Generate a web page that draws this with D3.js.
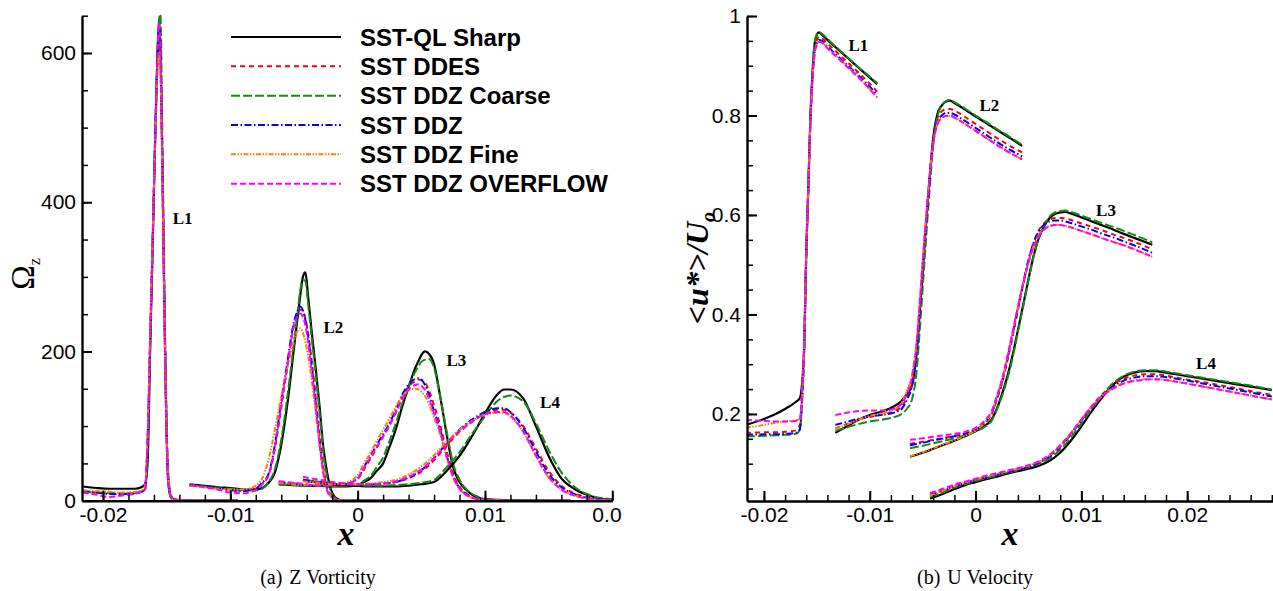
<!DOCTYPE html>
<html><head><meta charset="utf-8">
<script src="https://cdn.jsdelivr.net/npm/d3@7"></script>
<style>
html,body{margin:0;padding:0;background:#fff;}
svg{display:block;}
</style></head><body>
<svg id="chart" width="1273" height="591"></svg>
<script>
// ---------------- DATA ----------------
const seriesNames = ["SST-QL Sharp","SST DDES","SST DDZ Coarse","SST DDZ","SST DDZ Fine","SST DDZ OVERFLOW"];
const lineLabels = ["L1","L2","L3","L4"];
const vortTicksX = [-0.02,-0.01,0,0.01,0.02];
const vortTicksY = [0,200,400,600];
const velTicksX = [-0.02,-0.01,0,0.01,0.02];
const velTicksY = [0.2,0.4,0.6,0.8,1];

// Z vorticity, line L1..L4 (x grid + one array per series, series order as seriesNames)
const vortL1x = [-0.0216,-0.0205,-0.0195,-0.0185,-0.0175,-0.0170,-0.0167,-0.0165,-0.0163,-0.0161,-0.0159,-0.0157,-0.0156,-0.0155,-0.0153,-0.0151,-0.0149,-0.0147,-0.0145,-0.0142,-0.0138,-0.0130,-0.0120,-0.0094];
const vortL1 = [
 [19,17,16,16,16,18,22,50,200,340,485,610,642,615,405,170,30,6,2,1,0.5,0,0,0],
 [12,11,10,10,10,12,16,80,215,350,490,600,620,600,400,178,36,8,2,1,0.5,0,0,0],
 [12,11,10,9,10,12,15,70,205,345,490,610,645,652,440,200,45,10,3,1,0.5,0,0,0],
 [13,11,9,9,10,12,16,80,215,350,490,605,635,612,402,176,35,7,2,1,0.5,0,0,0],
 [14,13,12,11,12,14,20,90,225,355,480,580,600,580,390,172,35,7,2,1,0.5,0,0,0],
 [11,8,5,7,9,12,15,80,215,350,490,608,640,612,402,178,36,8,2,1,0.5,0,0,0]
];
const vortL2x = [-0.0132,-0.012,-0.011,-0.010,-0.009,-0.008,-0.0075,-0.007,-0.0065,-0.006,-0.0055,-0.005,-0.0047,-0.0045,-0.0043,-0.0041,-0.0039,-0.0036,-0.0033,-0.003,-0.0027,-0.0024,-0.0021,-0.0018,-0.0014,-0.001,0,0.002,0.0044];
const vortL2 = [
 [22,20,18,17,15,15,17,24,38,75,132,205,248,276,300,306,275,225,178,128,72,38,15,5,1,0,0,0,0],
 [21,19,17,15,13,16,23,34,70,125,182,236,252,256,254,244,226,186,140,88,46,18,7,2,1,0,0,0,0],
 [20,19,17,16,14,14,16,25,42,82,142,212,255,283,296,294,265,217,170,120,65,32,12,4,1,0,0,0,0],
 [21,19,17,14,13,16,24,36,75,133,188,240,255,260,255,242,222,180,133,80,40,15,6,2,1,0,0,0,0],
 [20,18,16,15,15,20,30,55,95,140,180,215,228,231,225,212,195,160,120,75,38,15,6,2,1,0,0,0,0],
 [21,18,15,11,10,14,22,34,72,128,182,235,248,251,246,235,214,173,128,78,38,14,5,2,1,0,0,0,0]
];
const vortL3x = [-0.0062,-0.005,-0.004,-0.003,-0.002,-0.001,0,0.0005,0.001,0.0015,0.002,0.0025,0.003,0.0035,0.004,0.0045,0.0048,0.005,0.0053,0.0056,0.006,0.0065,0.007,0.0075,0.008,0.0085,0.009,0.0095,0.010,0.011,0.012,0.0167];
const vortL3 = [
 [22,21,20,20,19,19,21,25,30,40,50,72,96,126,152,177,188,195,200,197,183,138,88,45,25,15,8,4,2,1,0.5,0],
 [25,23,21,20,20,22,29,42,56,71,86,101,119,139,153,160,162,162,158,148,128,100,66,37,19,10,5,2,1,0.5,0,0],
 [22,21,20,20,20,20,22,27,33,45,58,80,104,130,153,172,181,186,189,190,178,138,92,50,28,16,9,5,2,1,0.5,0],
 [25,23,21,20,20,22,30,45,60,75,89,104,122,142,156,163,164,162,155,142,120,94,60,33,17,9,4,2,1,0.5,0,0],
 [24,22,21,21,21,24,34,50,64,80,95,110,126,140,148,150,149,146,140,130,112,88,57,31,16,8,4,2,1,0.5,0,0],
 [26,24,22,20,20,22,30,44,58,72,86,101,118,136,149,155,156,154,148,137,117,91,59,32,16,8,4,2,1,0.5,0,0]
];
const vortL4x = [-0.0043,-0.003,-0.002,-0.001,0,0.001,0.002,0.003,0.004,0.005,0.006,0.007,0.008,0.009,0.010,0.011,0.0115,0.012,0.013,0.014,0.015,0.016,0.017,0.018,0.019,0.020,0.022,0.025,0.028];
const vortL4 = [
 [27,24,22,21,20,19,19,19,20,22,25,40,60,87,117,143,149,149,137,100,60,30,16,8,3,1,0.5,0,0],
 [27,25,23,22,22,22,23,25,30,39,54,74,92,106,117,122,122,118,100,70,40,20,10,5,2,1,0.5,0,0],
 [28,25,23,22,21,20,20,21,22,24,28,45,65,90,113,134,139,141,133,104,68,38,19,9,4,2,0.5,0,0],
 [28,25,23,22,22,22,23,25,31,41,57,77,95,109,119,124,124,119,98,66,36,18,9,4,2,1,0.5,0,0],
 [26,24,22,22,22,23,25,28,35,46,61,79,95,107,115,118,118,113,92,60,31,15,7,3,1,0.5,0,0,0],
 [32,28,25,23,22,22,23,26,32,42,57,76,93,106,116,119,119,114,93,61,32,15,7,3,1,0.5,0,0,0]
];

// U velocity <u*>/Uo, line L1..L4
const velL1x = [-0.0217,-0.020,-0.019,-0.018,-0.017,-0.0166,-0.0164,-0.0162,-0.016,-0.0158,-0.0156,-0.0154,-0.0152,-0.0150,-0.0148,-0.0145,-0.014,-0.013,-0.012,-0.011,-0.010,-0.0093];
const velL1 = [
 [0.178,0.190,0.199,0.210,0.224,0.232,0.26,0.335,0.525,0.660,0.800,0.890,0.946,0.962,0.967,0.962,0.952,0.933,0.914,0.895,0.876,0.863],
 [0.162,0.163,0.163,0.164,0.167,0.178,0.24,0.33,0.52,0.655,0.795,0.885,0.935,0.952,0.958,0.955,0.945,0.925,0.905,0.885,0.864,0.848],
 [0.155,0.156,0.157,0.158,0.160,0.168,0.22,0.32,0.52,0.655,0.80,0.89,0.946,0.963,0.968,0.964,0.954,0.934,0.915,0.896,0.878,0.865],
 [0.158,0.159,0.159,0.160,0.162,0.170,0.23,0.33,0.52,0.655,0.795,0.88,0.93,0.945,0.952,0.950,0.939,0.919,0.899,0.879,0.858,0.842],
 [0.172,0.178,0.182,0.185,0.187,0.19,0.24,0.335,0.525,0.655,0.79,0.875,0.925,0.942,0.948,0.946,0.936,0.916,0.896,0.876,0.853,0.837],
 [0.188,0.186,0.185,0.185,0.186,0.19,0.245,0.34,0.53,0.66,0.79,0.875,0.925,0.942,0.948,0.946,0.935,0.915,0.895,0.875,0.853,0.836]
];
const velL2x = [-0.01325,-0.012,-0.011,-0.010,-0.009,-0.008,-0.007,-0.0065,-0.006,-0.0056,-0.0052,-0.0048,-0.0044,-0.004,-0.0036,-0.0032,-0.0028,-0.0024,-0.002,-0.001,0,0.001,0.002,0.003,0.0044];
const velL2 = [
 [0.162,0.177,0.189,0.198,0.204,0.212,0.226,0.240,0.258,0.315,0.425,0.545,0.660,0.755,0.803,0.820,0.828,0.830,0.825,0.812,0.798,0.785,0.771,0.758,0.739],
 [0.171,0.181,0.189,0.194,0.198,0.203,0.215,0.232,0.26,0.32,0.43,0.55,0.66,0.75,0.795,0.808,0.813,0.813,0.810,0.797,0.783,0.769,0.755,0.742,0.726],
 [0.166,0.174,0.180,0.185,0.188,0.192,0.200,0.21,0.23,0.28,0.39,0.515,0.635,0.740,0.798,0.820,0.829,0.831,0.827,0.814,0.800,0.787,0.773,0.760,0.741],
 [0.178,0.185,0.191,0.195,0.198,0.201,0.210,0.228,0.258,0.32,0.43,0.55,0.655,0.745,0.788,0.800,0.805,0.805,0.802,0.789,0.775,0.761,0.747,0.734,0.718],
 [0.170,0.180,0.189,0.196,0.201,0.207,0.222,0.245,0.28,0.34,0.45,0.565,0.665,0.745,0.783,0.795,0.799,0.799,0.796,0.783,0.769,0.755,0.741,0.728,0.712],
 [0.198,0.203,0.206,0.207,0.207,0.209,0.22,0.24,0.275,0.335,0.445,0.56,0.66,0.743,0.782,0.795,0.799,0.799,0.796,0.783,0.769,0.755,0.741,0.728,0.712]
];
const velL3x = [-0.0062,-0.005,-0.004,-0.003,-0.002,-0.001,0,0.001,0.0015,0.002,0.0025,0.003,0.0035,0.004,0.0045,0.005,0.0055,0.006,0.0065,0.007,0.0075,0.008,0.0085,0.009,0.010,0.011,0.012,0.013,0.014,0.015,0.0167];
const velL3 = [
 [0.114,0.122,0.130,0.138,0.146,0.155,0.165,0.178,0.188,0.21,0.24,0.275,0.318,0.368,0.419,0.471,0.519,0.555,0.578,0.594,0.602,0.605,0.606,0.603,0.595,0.587,0.579,0.571,0.562,0.554,0.540],
 [0.140,0.144,0.148,0.152,0.156,0.161,0.168,0.184,0.198,0.228,0.262,0.306,0.356,0.408,0.46,0.508,0.545,0.570,0.584,0.591,0.594,0.594,0.593,0.590,0.583,0.576,0.569,0.561,0.554,0.546,0.531],
 [0.131,0.136,0.141,0.146,0.151,0.157,0.165,0.176,0.186,0.208,0.236,0.27,0.313,0.364,0.416,0.469,0.518,0.556,0.58,0.597,0.605,0.608,0.609,0.606,0.599,0.591,0.583,0.576,0.568,0.560,0.545],
 [0.137,0.142,0.147,0.151,0.155,0.160,0.168,0.185,0.20,0.23,0.265,0.31,0.36,0.412,0.463,0.51,0.545,0.568,0.581,0.587,0.589,0.589,0.587,0.584,0.577,0.570,0.562,0.555,0.547,0.539,0.524],
 [0.115,0.123,0.131,0.139,0.147,0.156,0.167,0.186,0.202,0.233,0.268,0.313,0.363,0.414,0.463,0.505,0.538,0.560,0.572,0.578,0.580,0.580,0.578,0.575,0.568,0.561,0.553,0.546,0.539,0.531,0.516],
 [0.148,0.151,0.154,0.157,0.160,0.164,0.172,0.19,0.205,0.235,0.27,0.315,0.365,0.415,0.462,0.504,0.537,0.559,0.571,0.577,0.580,0.580,0.578,0.575,0.568,0.561,0.553,0.546,0.539,0.531,0.516]
];
const velL4x = [-0.0043,-0.003,-0.002,-0.001,0,0.001,0.002,0.003,0.004,0.005,0.006,0.007,0.008,0.009,0.010,0.011,0.012,0.013,0.014,0.015,0.016,0.017,0.018,0.020,0.022,0.024,0.026,0.028];
const velL4 = [
 [0.030,0.040,0.049,0.057,0.063,0.069,0.074,0.080,0.085,0.090,0.096,0.106,0.122,0.146,0.175,0.206,0.234,0.259,0.275,0.283,0.286,0.286,0.283,0.276,0.269,0.262,0.255,0.248],
 [0.038,0.047,0.055,0.062,0.068,0.074,0.079,0.084,0.089,0.095,0.103,0.116,0.135,0.160,0.188,0.216,0.240,0.259,0.271,0.277,0.280,0.280,0.277,0.269,0.262,0.254,0.246,0.238],
 [0.033,0.043,0.052,0.059,0.065,0.071,0.076,0.082,0.087,0.093,0.100,0.111,0.128,0.152,0.181,0.211,0.238,0.262,0.277,0.285,0.288,0.288,0.285,0.278,0.271,0.264,0.257,0.249],
 [0.037,0.046,0.054,0.061,0.067,0.073,0.078,0.083,0.088,0.094,0.102,0.115,0.134,0.159,0.187,0.214,0.237,0.255,0.267,0.273,0.276,0.276,0.274,0.267,0.259,0.251,0.243,0.235],
 [0.036,0.046,0.055,0.062,0.068,0.074,0.079,0.085,0.090,0.096,0.104,0.117,0.136,0.161,0.189,0.216,0.237,0.252,0.262,0.267,0.270,0.270,0.268,0.261,0.253,0.245,0.237,0.229],
 [0.041,0.050,0.058,0.064,0.070,0.076,0.081,0.086,0.091,0.097,0.105,0.118,0.137,0.161,0.189,0.215,0.236,0.251,0.261,0.266,0.269,0.270,0.268,0.261,0.253,0.245,0.237,0.229]
];
// label anchor points (data units)
const vortLabelX = [-0.01375,-0.0019,0.00776,0.01511];
const vortLabelY = [379,233,189,132];
const velLabelX = [-0.01108,0.0013,0.01233,0.02178];
const velLabelY = [0.942,0.821,0.610,0.302];

// ---------------- STYLE ----------------
const SANS = "'Liberation Sans', Arial, Helvetica, sans-serif";
const SERIF = "'Liberation Serif', 'Times New Roman', Times, serif";
const styles = [
  {color:"#000000", dash:null, width:2.2},
  {color:"#ff0000", dash:"5,4", width:2},
  {color:"#138a13", dash:"9,3", width:2},
  {color:"#0000ff", dash:"7,2.5,1.5,2.5", width:2},
  {color:"#ff8000", dash:"5,1.5,1.5,1.5,1.5,1.5", width:2},
  {color:"#ff00ff", dash:"6,3", width:2}
];
const fmt = d => d === 0 ? "0" : String(d);

const svg = d3.select("#chart");
const defs = svg.append("defs");

function range(a, b, s) { const out = []; for (let v = a; v <= b + s/1000; v += s) out.push(+v.toFixed(6)); return out; }

function panel(cfg) {
  const {id, x, y, segments, xTicks, yTicks, xMinor, yMinor, labelX, labelY, clipW} = cfg;
  const [x0, x1] = x.range();
  const [yb, yt] = y.range();
  defs.append("clipPath").attr("id", id + "-plot").append("rect")
    .attr("x", x0).attr("y", yt - 2).attr("width", x1 - x0).attr("height", yb - yt + 2);
  let root = svg.append("g");
  if (clipW) {
    defs.append("clipPath").attr("id", id + "-all").append("rect")
      .attr("x", 0).attr("y", 0).attr("width", clipW).attr("height", 591);
    root.attr("clip-path", `url(#${id}-all)`);
  }
  const plot = root.append("g").attr("clip-path", `url(#${id}-plot)`);
  const line = d3.line().x(d => x(d[0])).y(d => y(d[1])).curve(d3.curveMonotoneX);
  segments.forEach(seg => {
    seg.ys.forEach((vals, si) => {
      const st = styles[si];
      plot.append("path")
        .datum(seg.x.map((xv, i) => [xv, vals[i]]))
        .attr("d", line)
        .attr("fill", "none")
        .attr("stroke", st.color)
        .attr("stroke-width", st.width)
        .attr("stroke-dasharray", st.dash)
        .attr("stroke-linejoin", "round");
    });
  });
  // minor ticks
  root.append("g").attr("transform", `translate(0,${yb})`)
    .call(d3.axisBottom(x).tickValues(xMinor).tickSizeInner(-6).tickSizeOuter(0).tickFormat(""))
    .call(g => g.select(".domain").remove())
    .call(g => g.selectAll(".tick line").attr("stroke-width", 1.5));
  root.append("g").attr("transform", `translate(${x0},0)`)
    .call(d3.axisLeft(y).tickValues(yMinor).tickSizeInner(-6).tickSizeOuter(0).tickFormat(""))
    .call(g => g.select(".domain").remove())
    .call(g => g.selectAll(".tick line").attr("stroke-width", 1.5));
  // major axes
  const gx = root.append("g").attr("transform", `translate(0,${yb})`)
    .call(d3.axisBottom(x).tickValues(xTicks).tickSizeInner(-10).tickSizeOuter(0).tickPadding(6).tickFormat(fmt));
  const gy = root.append("g").attr("transform", `translate(${x0},0)`)
    .call(d3.axisLeft(y).tickValues(yTicks).tickSizeInner(-10).tickSizeOuter(0).tickPadding(6).tickFormat(fmt));
  [gx, gy].forEach(g => {
    g.select(".domain").attr("stroke-width", 2.4).attr("stroke", "#000");
    g.selectAll(".tick line").attr("stroke-width", 2).attr("stroke", "#000");
    g.selectAll(".tick text").attr("font-family", SANS).attr("font-size", 21).attr("fill", "#000");
  });
  // line labels
  lineLabels.forEach((t, i) => {
    root.append("text").attr("x", x(labelX[i])).attr("y", y(labelY[i]))
      .attr("text-anchor", "middle").attr("dy", "0.35em")
      .attr("font-family", SERIF).attr("font-weight", "bold").attr("font-size", 17)
      .text(t);
  });
  return root;
}

// Left panel: Z vorticity
const xL = d3.scaleLinear().domain([-0.02165, 0.02]).range([82, 612.3]);
const yL = d3.scaleLinear().domain([0, 650]).range([500.7, 15.7]);
const left = panel({
  id: "L", x: xL, y: yL, clipW: 622,
  segments: [{x: vortL1x, ys: vortL1}, {x: vortL2x, ys: vortL2}, {x: vortL3x, ys: vortL3}, {x: vortL4x, ys: vortL4}],
  xTicks: vortTicksX, yTicks: vortTicksY,
  xMinor: range(-0.02, 0.02, 0.002), yMinor: range(0, 650, 50),
  labelX: vortLabelX, labelY: vortLabelY
});

// Right panel: U velocity
const xR = d3.scaleLinear().domain([-0.0216, 0.0283]).range([747, 1275]);
const yR = d3.scaleLinear().domain([0.025, 1]).range([501, 16]);
const right = panel({
  id: "R", x: xR, y: yR,
  segments: [{x: velL1x, ys: velL1}, {x: velL2x, ys: velL2}, {x: velL3x, ys: velL3}, {x: velL4x, ys: velL4}],
  xTicks: velTicksX, yTicks: velTicksY,
  xMinor: range(-0.02, 0.028, 0.002), yMinor: range(0.05, 1, 0.05),
  labelX: velLabelX, labelY: velLabelY
});

// Legend (left panel)
seriesNames.forEach((name, i) => {
  const yy = 37 + i * 29.33;
  const st = styles[i];
  left.append("line").attr("x1", 231).attr("x2", 341).attr("y1", yy).attr("y2", yy)
    .attr("stroke", st.color).attr("stroke-width", st.width).attr("stroke-dasharray", st.dash);
  left.append("text").attr("x", 360).attr("y", yy).attr("dy", "0.36em")
    .attr("font-family", SANS).attr("font-weight", "bold").attr("font-size", 24)
    .text(name);
});

// Axis titles
left.append("text").attr("x", 346).attr("y", 545).attr("text-anchor", "middle")
  .attr("font-family", SERIF).attr("font-weight", "bold").attr("font-style", "italic").attr("font-size", 34).text("x");
right.append("text").attr("x", 1010).attr("y", 545).attr("text-anchor", "middle")
  .attr("font-family", SERIF).attr("font-weight", "bold").attr("font-style", "italic").attr("font-size", 34).text("x");

const om = left.append("text").attr("transform", "translate(34,274) rotate(-90)").attr("text-anchor", "middle")
  .attr("font-family", SERIF).attr("font-size", 33);
om.append("tspan").text("Ω");
om.append("tspan").attr("font-size", 16).attr("dy", 6).text("z");

const ut = right.append("text").attr("transform", "translate(708,268) rotate(-90)").attr("text-anchor", "middle")
  .attr("font-family", SERIF).attr("font-weight", "bold").attr("font-style", "italic").attr("font-size", 32);
ut.append("tspan").text("<u*>/U");
ut.append("tspan").attr("font-size", 20).attr("dy", 7).text("o");

// Captions
const capL = svg.append("text").attr("x", 318).attr("y", 584).attr("text-anchor", "middle")
  .attr("font-family", SERIF).attr("font-size", 20);
capL.append("tspan").text("(a)");
capL.append("tspan").attr("dx", 7).text("Z Vorticity");
const capR = svg.append("text").attr("x", 975).attr("y", 584).attr("text-anchor", "middle")
  .attr("font-family", SERIF).attr("font-size", 20);
capR.append("tspan").text("(b)");
capR.append("tspan").attr("dx", 7).text("U Velocity");
</script></body></html>
